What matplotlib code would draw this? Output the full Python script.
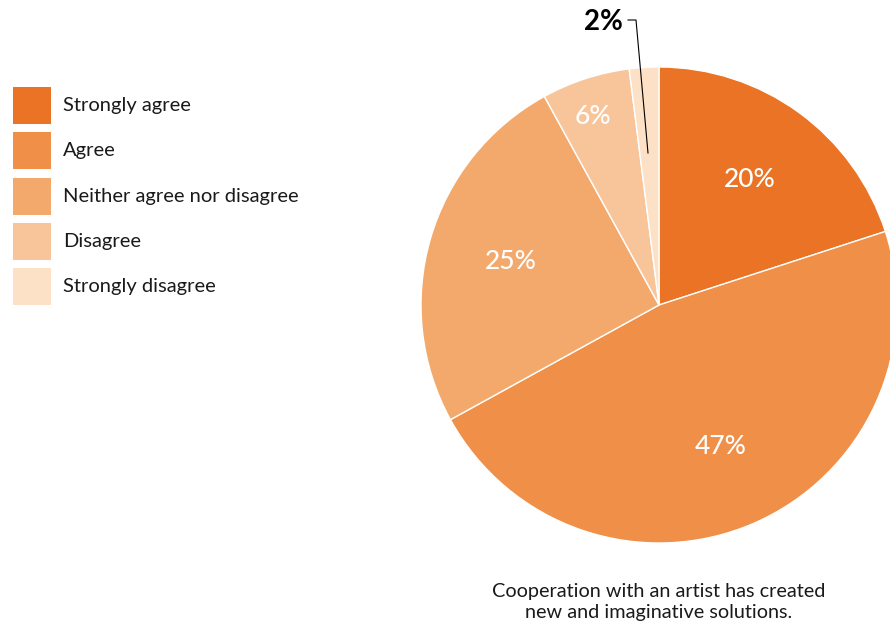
import matplotlib
matplotlib.use("Agg")
import matplotlib.pyplot as plt
from matplotlib.patches import Rectangle

categories = ["Strongly agree", "Agree", "Neither agree nor disagree",
              "Disagree", "Strongly disagree"]
shares = [20, 47, 25, 6, 2]
colors = ["#EA7325", "#EF8F48", "#F4A96C", "#F8C59A", "#FDE1C7"]
caption = "Cooperation with an artist has created\nnew and imaginative solutions."

W, H = 890, 629
plt.rcParams["font.family"] = ["Lato", "DejaVu Sans"]
fig = plt.figure(figsize=(W / 100, H / 100), dpi=100)
ax = fig.add_axes([0, 0, 1, 1])

cx, cy, r = 659, H - 305, 238
wedges, texts = ax.pie(
    shares, colors=colors, startangle=90, counterclock=False,
    center=(cx, cy), radius=r, frame=True,
    labels=[f"{v}%" for v in shares], labeldistance=0.65,
    wedgeprops=dict(edgecolor="white", linewidth=1.0),
    textprops=dict(color="white", fontsize=19, fontweight="medium",
                   ha="center", va="center"),
)
ax.set_xlim(0, W)
ax.set_ylim(0, H)
ax.set_aspect("equal")
ax.axis("off")

# pull the small "6%" label outward, move the "2%" label outside with a leader
texts[3].set_position((593, H - 117))
texts[4].set_visible(False)
ax.plot([648, 636, 628], [H - 153, H - 20, H - 20], color="black", lw=0.8)
ax.text(623, H - 22, f"{shares[4]}%", ha="right", va="center",
        fontsize=20, fontweight="bold", color="black")

# legend: colour squares with labels
box, step, top = 37, 45.3, 87
for i, (name, c) in enumerate(zip(categories, colors)):
    y0 = H - (top + i * step) - box
    ax.add_patch(Rectangle((13, y0), 38, box, facecolor=c, edgecolor="none"))
    ax.text(63, y0 + box / 2, name, ha="left", va="center",
            fontsize=14.5, color="#1a1a1a")

ax.text(659, H - 602, caption, ha="center", va="center", fontsize=14.3,
        linespacing=1.3, color="#1a1a1a")

fig.savefig("out.png", dpi=100)
